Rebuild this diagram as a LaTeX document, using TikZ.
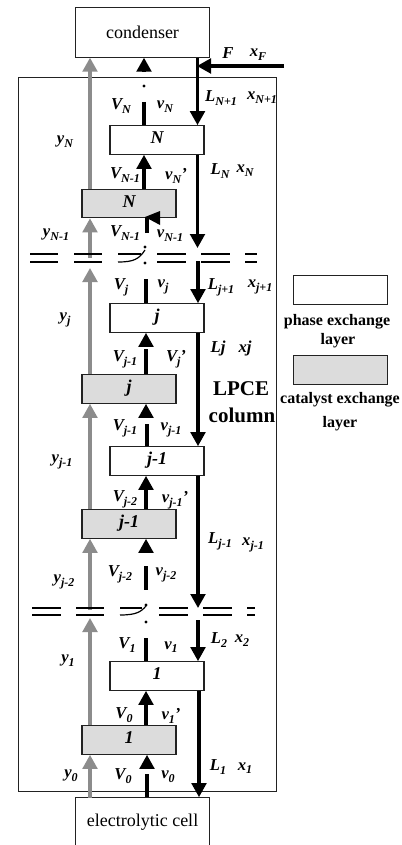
\documentclass[tikz,border=0pt]{standalone}
\usepackage{fontspec}
\setmainfont{Liberation Serif}
\usetikzlibrary{arrows.meta,calc}
\newcommand\lab[2]{#1\raisebox{-0.22em}{\fontsize{9}{9}\selectfont #2}}
\definecolor{gflow}{HTML}{8C8C8C}
\definecolor{catfill}{HTML}{DCDCDC}
\definecolor{framec}{HTML}{222222}
\tikzset{
  px/.style={x=0.75pt,y=-0.75pt},
  endbox/.style={draw=framec,line width=0.8pt,fill=white,minimum width=100pt,minimum height=37pt,inner sep=0pt,font=\fontsize{13.5}{14}\selectfont},
  phasebox/.style={draw=framec,line width=0.8pt,fill=white,minimum width=70.5pt,minimum height=21.5pt,inner sep=0pt,font=\fontsize{13.5}{14}\bfseries\itshape},
  catbox/.style={phasebox,fill=catfill},
  lab/.style={inner sep=0pt,font=\fontsize{12.5}{13}\bfseries\itshape},
  legendtxt/.style={inner sep=0pt,font=\fontsize{12}{13}\bfseries},
  bigtxt/.style={inner sep=0pt,font=\fontsize{15.75}{17}\bfseries},
  bflow/.style={line width=2.3pt,draw=black},
  gryflow/.style={line width=2.3pt,draw=gflow},
  headb/.style={-{Triangle[length=10.5pt,width=11pt]}},
  brk/.style={line width=0.9pt,draw=black},
  dotn/.style={circle,fill=black,inner sep=0pt,minimum size=2.4pt},
}
\begin{document}
\begin{tikzpicture}[px]
\useasboundingbox (0,0) rectangle (401,845);
\fill[white] (0,0) rectangle (401,845);
% column frame
\draw[draw=framec,line width=0.7pt] (18,77) rectangle (276,791);
% boxes
\node[endbox] (cond) at (142.5,32.5) {condenser};
\node[endbox,minimum height=50pt] (cell) at (142.5,831) {};
\node[inner sep=0pt,font=\fontsize{13.5}{14}\selectfont] (celltxt) at (142.5,822) {electrolytic cell};
\node[phasebox] (pN) at (157,140) {\strut N};
\node[phasebox] (pj) at (157,318) {\strut j};
\node[phasebox] (pk) at (157,461) {\strut j-1};
\node[phasebox] (p1) at (157,676) {\strut 1};
\node[catbox] (cN) at (129,203.5) {\strut N};
\node[catbox] (cj) at (129,389) {\strut j};
\node[catbox] (ck) at (129,524) {\strut j-1};
\node[catbox] (c1) at (129,740) {\strut 1};
\node[phasebox] (legA) at (340.5,290) {};
\node[catbox] (legB) at (340.5,370) {};
% column x-positions
\coordinate (gx) at (90,0);
\coordinate (bx) at (145.5,0);
\coordinate (lx) at (197.5,0);
% gray vapour
\coordinate (g1) at (90,258);
\coordinate (g2) at (90,610);
\draw[gryflow,headb] (c1.south -| gx) ++(0,43) -- (c1.south -| gx);
\coordinate (g0) at (90,618);
\draw[gryflow,headb] (c1.north -| gx) -- (g0);
\draw[gryflow,headb] (g2) -- (ck.south -| gx);
\draw[gryflow,headb] (ck.north -| gx) -- (cj.south -| gx);
\coordinate (g3) at (90,268);
\draw[gryflow,headb] (cj.north -| gx) -- (g3);
\draw[gryflow,headb] (g1) -- (cN.south -| gx);
\draw[gryflow,headb] (cN.north -| gx) -- (cond.south -| gx);
% black vapour
\coordinate (t1) at (144,71);
\draw[bflow,headb] (t1) -- (cond.south -| t1);
\node[dotn] (d0) at (144,86) {};
\coordinate (t2) at (144,102);
\draw[bflow] (t2) -- (pN.north -| t2);
\draw[bflow,headb] (cN.north -| t2) -- (pN.south -| t2);
\coordinate (t3) at (147,233);
\coordinate (t4) at (147,217);
\draw[bflow] (t3) -- (t4);
\fill[black] (145,217) -- (160,211) -- (160,225) -- cycle;
\node[dotn] (d1) at (145,247) {};
\node[dotn] (d2) at (145,263) {};
\coordinate (t5) at (146,279);
\draw[bflow] (t5) -- (pj.north -| t5);
\coordinate (t6) at (146,349);
\draw[bflow,headb] (t6) ++(0,-3) -- (pj.south -| t6);
\draw[bflow] (cj.north -| t6) -- (t6);
\coordinate (t7) at (146,417);
\draw[bflow,headb] (t7) -- (cj.south -| t7);
\coordinate (t8) at (147,424);
\draw[bflow] (t8) -- (pk.north -| t8);
\draw[bflow,headb] (ck.north -| t6) -- (pk.south -| t6);
\coordinate (t9) at (146,552);
\draw[bflow,headb] (t9) -- (ck.south -| t9);
\coordinate (t10) at (146,566);
\coordinate (t11) at (146,590);
\draw[bflow] (t10) -- (t11);
\node[dotn] (d3) at (146,605) {};
\node[dotn] (d4) at (146,622) {};
\coordinate (t12) at (146,638);
\draw[bflow] (t12) -- (p1.north -| t12);
\draw[bflow,headb] (c1.north -| t12) -- (p1.south -| t12);
\coordinate (t13) at (147,769);
\draw[bflow,headb] (t13) -- (c1.south -| t13);
\coordinate (t14) at (147,774);
\draw[bflow] (cell.north -| t14) -- (t14);
% liquid
\coordinate (fe) at (284,66);
\coordinate (fj) at (197,66);
\draw[bflow,headb] (fe) -- (fj);
\draw[bflow,headb] (cond.south -| lx) -- (pN.north -| lx);
\coordinate (l1) at (197.5,248);
\draw[bflow,headb] (pN.south -| lx) -- (l1);
\coordinate (l2) at (198,261);
\draw[bflow,headb] (l2) -- (pj.north -| l2);
\draw[bflow,headb] (pj.south -| l2) -- (pk.north -| l2);
\coordinate (l3) at (198,608);
\draw[bflow,headb] (pk.south -| l2) -- (l3);
\coordinate (l4) at (198,620);
\draw[bflow,headb] (l4) -- (p1.north -| l4);
\coordinate (l5) at (199,0);
\draw[bflow,headb] (p1.south -| l5) -- (cell.north -| l5);
% broken layers
\foreach \a/\b in {30/58,74/102,157/186,201/230,245/257}{
  \draw[brk] (\a,254) -- (\b,254);
  \draw[brk] (\a,262) -- (\b,262);
}
\draw[brk] (118,254) -- (141,254);
\draw[brk] (118,262) .. controls (134,262) and (139,259) .. (145,250);
\foreach \a/\b in {32/61,76/104,159/188,203/232,247/255}{
  \draw[brk] (\a,608) -- (\b,608);
  \draw[brk] (\a,615) -- (\b,615);
}
\draw[brk] (120,608) -- (142,608);
\draw[brk] (120,615) .. controls (136,615) and (141,612) .. (146,606);
% labels
\node[lab] (n1) at (228,53) {F};
\node[lab] (n2) at (258,55) {\lab{x}{F}};
\node[lab] (n3) at (221,98) {\lab{L}{N+1}};
\node[lab] (n4) at (262,98) {\lab{x}{N+1}};
\node[lab] (n5) at (121,106) {\lab{V}{N}};
\node[lab] (n6) at (165,107) {\lab{v}{N}};
\node[lab] (n7) at (65,142) {\lab{y}{N}};
\node[lab] (n8) at (220,171) {\lab{L}{N}};
\node[lab] (n9) at (245,171) {\lab{x}{N}};
\node[lab] (n10) at (125,175) {\lab{V}{N-1}};
\node[lab] (n11) at (176,176) {\lab{v}{N}'};
\node[lab] (n12) at (56,235) {\lab{y}{N-1}};
\node[lab] (n13) at (125,233) {\lab{V}{N-1}};
\node[lab] (n14) at (170,236) {\lab{v}{N-1}};
\node[lab] (n15) at (221,287) {\lab{L}{j+1}};
\node[lab] (n16) at (260,287) {\lab{x}{j+1}};
\node[lab] (n17) at (121,287) {\lab{V}{j}};
\node[lab] (n18) at (163,287) {\lab{v}{j}};
\node[lab] (n19) at (65,320) {\lab{y}{j}};
\node[lab] (n20) at (218,348) {Lj};
\node[lab] (n21) at (245,348) {xj};
\node[lab] (n22) at (125,359) {\lab{V}{j-1}};
\node[lab] (n23) at (176,359) {\lab{V}{j}'};
\node[bigtxt] (n24) at (241,389) {LPCE};
\node[bigtxt] (n25) at (242,415) {column};
\node[lab] (n26) at (125,428) {\lab{V}{j-1}};
\node[lab] (n27) at (171,430) {\lab{v}{j-1}};
\node[lab] (n28) at (62,462) {\lab{y}{j-1}};
\node[lab] (n29) at (125,499) {\lab{V}{j-2}};
\node[lab] (n30) at (175,500) {\lab{v}{j-1}'};
\node[lab] (n31) at (220,541) {\lab{L}{j-1}};
\node[lab] (n32) at (253,545) {\lab{x}{j-1}};
\node[lab] (n33) at (120,574) {\lab{V}{j-2}};
\node[lab] (n34) at (166,575) {\lab{v}{j-2}};
\node[lab] (n35) at (64,582) {\lab{y}{j-2}};
\node[lab] (n36) at (219,640) {\lab{L}{2}};
\node[lab] (n37) at (242,641) {\lab{x}{2}};
\node[lab] (n38) at (127,645) {\lab{V}{1}};
\node[lab] (n39) at (171,647) {\lab{v}{1}};
\node[lab] (n40) at (68,661) {\lab{y}{1}};
\node[lab] (n41) at (124,715) {\lab{V}{0}};
\node[lab] (n42) at (171,716) {\lab{v}{1}'};
\node[lab] (n43) at (218,767) {\lab{L}{1}};
\node[lab] (n44) at (245,768) {\lab{x}{1}};
\node[lab] (n45) at (71,776) {\lab{y}{0}};
\node[lab] (n46) at (123,776) {\lab{V}{0}};
\node[lab] (n47) at (168,777) {\lab{v}{0}};
\node[legendtxt] (m1) at (337,322) {phase exchange};
\node[legendtxt] (m2) at (338,341) {layer};
\node[legendtxt] (m3) at (340,400) {catalyst exchange};
\node[legendtxt] (m4) at (340,424) {layer};
\end{tikzpicture}
\end{document}
